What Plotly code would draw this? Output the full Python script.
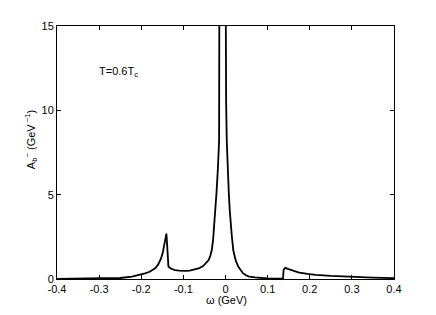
import plotly.graph_objects as go

# omega (GeV) and spectral function A_b^- (GeV^-1)
omega = [-0.400, -0.350, -0.300, -0.270, -0.250, -0.222, -0.205, -0.191, -0.180,
         -0.167, -0.160, -0.153, -0.149, -0.145, -0.1425, -0.1403, -0.139,
         -0.1375, -0.1355, -0.130, -0.1197, -0.110, -0.100, -0.096, -0.085,
         -0.072, -0.062, -0.0526, -0.045, -0.040, -0.036, -0.0327, -0.0295,
         -0.0265, -0.0238, -0.021, -0.018, -0.0152, -0.0147, -0.0140, -0.0120,
         -0.0080, -0.0040, -0.0010, 0.0003, 0.0005, 0.0015, 0.0030, 0.0050,
         0.0076, 0.0100, 0.0123, 0.0150, 0.0185, 0.0210, 0.0240, 0.0305,
         0.0360, 0.0420, 0.0490, 0.0560, 0.0700, 0.0850, 0.1000, 0.1200,
         0.1365, 0.1380, 0.1420, 0.1480, 0.1600, 0.1750, 0.1950, 0.2140,
         0.2500, 0.3000, 0.3500, 0.4000]
a_b = [0.01, 0.015, 0.025, 0.04, 0.06, 0.14, 0.23, 0.33, 0.43,
       0.63, 0.85, 1.22, 1.55, 2.0, 2.4, 2.69, 2.2,
       1.3, 0.74, 0.62, 0.53, 0.50, 0.48, 0.48, 0.50,
       0.56, 0.64, 0.78, 0.95, 1.12, 1.38, 1.7, 2.3,
       3.27, 4.2, 5.24, 6.6, 8.2, 15.0, 25.0, 45.0,
       60.0, 45.0, 25.0, 18.0, 15.0, 10.5, 8.2, 6.5,
       5.24, 4.1, 3.27, 2.55, 1.7, 1.38, 1.12, 0.72,
       0.5, 0.33, 0.22, 0.14, 0.09, 0.05, 0.03, 0.02,
       0.02, 0.55, 0.66, 0.6, 0.5, 0.38, 0.3, 0.24,
       0.18, 0.12, 0.08, 0.05]

x_ticks = [-0.4, -0.3, -0.2, -0.1, 0, 0.1, 0.2, 0.3, 0.4]
x_tick_text = ["-0.4", "-0.3", "-0.2", "-0.1", "0", "0.1", "0.2", "0.3", "0.4"]
y_ticks = [0, 5, 10, 15]
y_tick_text = ["0", "5", "10", "15"]

font_family = "Liberation Sans, Arial, Helvetica, sans-serif"

fig = go.Figure()
fig.add_trace(go.Scatter(
    x=omega, y=a_b, mode="lines",
    line=dict(color="black", width=1.8),
    showlegend=False,
))

axis_common = dict(
    showline=True, linecolor="black", linewidth=1, mirror="ticks",
    ticks="inside", ticklen=4, tickwidth=1, tickcolor="black",
    showgrid=False, zeroline=False,
    tickfont=dict(family=font_family, size=11, color="black"),
)

fig.update_xaxes(range=[-0.4, 0.4], tickvals=x_ticks, ticktext=x_tick_text, **axis_common)
fig.update_yaxes(range=[0, 15], tickvals=y_ticks, ticktext=y_tick_text, **axis_common)

fig.add_annotation(
    x=-0.305, y=12.3, xref="x", yref="y",
    text="T=0.6T<sub>c</sub>", showarrow=False,
    xanchor="left", yanchor="middle",
    font=dict(family=font_family, size=11, color="black"),
)
# axis titles as annotations (paper coords are relative to the plot area)
fig.add_annotation(
    x=0.5015, y=-0.082, xref="paper", yref="paper",
    text="ω (GeV)", showarrow=False,
    xanchor="center", yanchor="middle",
    font=dict(family=font_family, size=11, color="black"),
)
fig.add_annotation(
    x=-0.077, y=0.549, xref="paper", yref="paper",
    text="A<sub>b</sub><sup>−</sup> (GeV<sup> −1</sup>)", showarrow=False,
    textangle=-90, xanchor="center", yanchor="middle",
    font=dict(family=font_family, size=11, color="black"),
)

fig.update_layout(
    width=428, height=307,
    margin=dict(l=49, r=42, t=16, b=36),
    paper_bgcolor="white", plot_bgcolor="white",
)

fig.write_html("out.html")
